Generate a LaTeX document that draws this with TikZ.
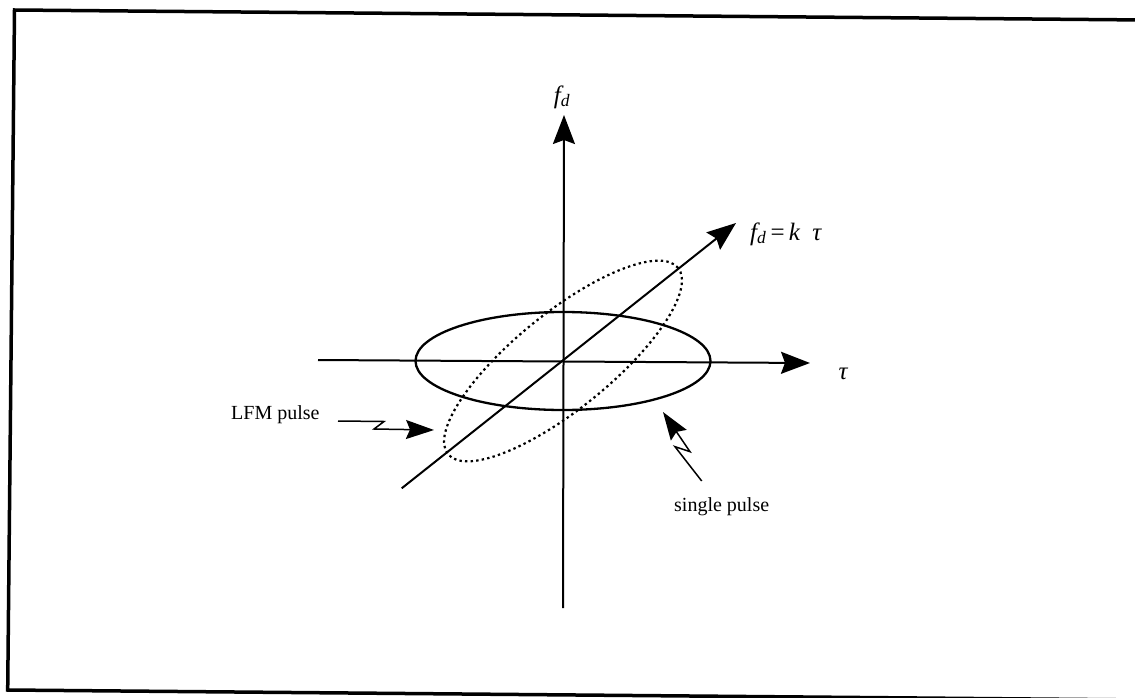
\documentclass[tikz,border=0pt]{standalone}
\usepackage{fontspec}
\setmainfont{Liberation Serif}
\usetikzlibrary{arrows.meta}
\begin{document}
\begin{tikzpicture}[x=1pt,y=-1pt,
  axisline/.style={line width=2pt,-{Stealth[length=29pt,width=22pt,inset=4pt]}},
  pointer/.style={line width=1.5pt,-{Stealth[length=28pt,width=19pt,inset=4pt]}},
  lbl/.style={font=\fontsize{20}{23}\selectfont,inner sep=0pt},
  mlbl/.style={font=\fontsize{25}{28}\selectfont\itshape,inner sep=0pt},
  ell/.style={line width=2.3pt}]
\useasboundingbox (0,0) rectangle (1135,698);
% frame
\coordinate (TL) at (14.5,10);
\coordinate (TR) at (1145,20);
\coordinate (BL) at (7.7,690);
\coordinate (BR) at (1145,700);
\draw[line width=3.5pt] (TR) -- (TL) -- (BL) -- (BR);
% axes
\coordinate (O) at (563,361);
\coordinate (vb) at (563,608);
\coordinate (vt) at (564,115);
\coordinate (hl) at (318,360);
\coordinate (hr) at (810,363);
\coordinate (da) at (401.7,488.3);
\coordinate (dt) at (736,223);
\draw[axisline] (vb) -- (vt);
\draw[axisline] (hl) -- (hr);
\draw[axisline] (da) -- (dt);
% ellipses
\draw[ell] (O) ellipse [x radius=147.5pt, y radius=49pt];
\draw[line width=2.2pt, dash pattern=on 2.4pt off 3.2pt, rotate around={39:(O)}] (O) ellipse [x radius=148pt, y radius=48pt];
% labels
\node[mlbl] (fdtop) at (562,97) {f\textsubscript{d}};
\node[mlbl,anchor=west] (fdk) at (750,234) {f\textsubscript{d}\,\upshape=\,\itshape k\enspace τ};
\node[mlbl] (tau) at (843,374) {τ};
\node[lbl,anchor=base west] (lfm) at (231,419) {LFM pulse};
\node[lbl,anchor=base west] (sp) at (674,511.7) {single pulse};
% pointers
\coordinate (l1) at (338,421);
\coordinate (l2) at (384,421.5);
\coordinate (l3) at (374,429);
\coordinate (l4) at (434,430);
\draw[pointer] (l1) -- (l2) -- (l3) -- (l4);
\coordinate (s1) at (701.7,481);
\coordinate (s2) at (675,446.7);
\coordinate (s3) at (690,451.7);
\coordinate (s4) at (663,412);
\draw[pointer] (s1) -- (s2) -- (s3) -- (s4);
\end{tikzpicture}
\end{document}
